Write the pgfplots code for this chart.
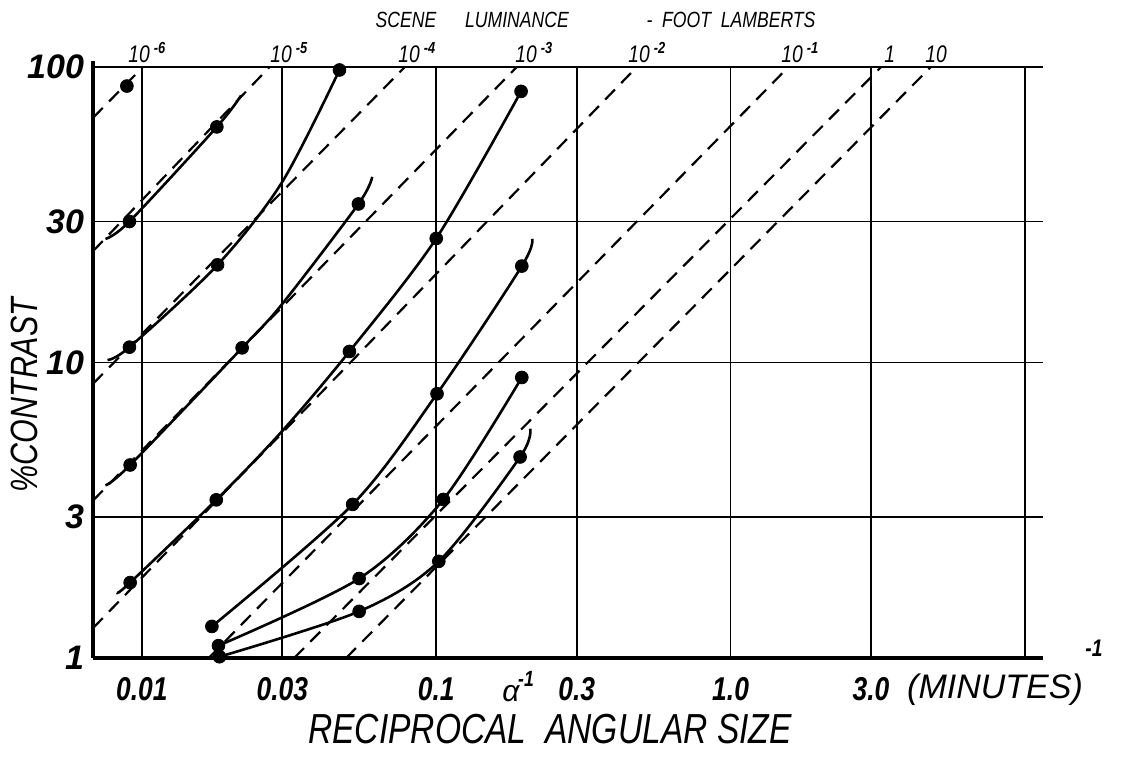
\documentclass[border=0pt]{standalone}
\usepackage{fontspec}
\setmainfont{Liberation Sans}
\newfontfamily\narrow[FakeStretch=0.8]{Liberation Sans}
\usepackage{pgfplots}
\pgfplotsset{compat=1.18}

% 1 px of the reference = 0.5pt; axis origin at reference pixel (93,658)
\tikzset{
  lum/.style={black, line width=1.1pt, dash pattern=on 7pt off 4.5pt},
  curve/.style={black, line width=1.3pt, smooth, tension=0.5},
  lumlab/.style={anchor=base west, inner sep=0pt, font=\narrow\itshape\fontsize{12}{12}\selectfont},
}

\begin{document}
\begin{tikzpicture}
\useasboundingbox (-46.5pt,-49.5pt) rectangle (526.5pt,329pt);
\begin{axis}[
  at={(0pt,0pt)}, anchor=south west,
  scale only axis, width=475pt, height=295.5pt,
  xmode=log, ymode=log,
  xmin=0.00682, xmax=11.52, ymin=1, ymax=100,
  axis x line=bottom, axis y line=left,
  axis line style={-, line width=1.6pt},
  y axis line style={shorten >=-3pt},
  xtick={0.01,0.03,0.1,0.3,1,3,10},
  xticklabels={0.01,0.03,0.1,0.3,1.0,3.0,},
  ytick={1,3,10,30,100},
  yticklabels={1,3,10,30,100},
  minor tick num=0, major tick length=0pt,
  grid=major, major grid style={black, line width=0.9pt},
  xticklabel style={font=\narrow\bfseries\itshape\fontsize{16.5}{16.5}\selectfont, yshift=-6pt},
  yticklabel style={font=\bfseries\itshape\fontsize{17}{17}\selectfont, xshift=-1pt},
  clip=false,
]
% luminance lines (dashed)
\addplot[lum] coordinates {(0.00682,67.3) (0.01008,100)};
\addplot[lum] coordinates {(0.00682,23.8) (0.02715,100)};
\addplot[lum] coordinates {(0.00682,8.47) (0.0782,100)};
\addplot[lum] coordinates {(0.00682,3.41) (0.1877,100)};
\addplot[lum] coordinates {(0.00682,1.262) (0.480,100)};
\addplot[lum] coordinates {(0.01686,1) (1.572,100)};
\addplot[lum] coordinates {(0.0329,1) (3.248,100)};
\addplot[lum] coordinates {(0.0494,1) (4.786,100)};

% measured curves
\addplot[curve] coordinates {(0.00752,26.2) (0.00907,30) (0.01797,62.7) (0.02173,80.1)};
\addplot[curve] coordinates {(0.00764,10.2) (0.00907,11.27) (0.01807,21.4) (0.03,40.9) (0.0469,97.7)};
\addplot[curve] coordinates {(0.00752,3.84) (0.00912,4.50) (0.0219,11.21) (0.03,15.8) (0.0544,34.4) (0.0606,42.5)};
\addplot[curve] coordinates {(0.00825,1.665) (0.00912,1.80) (0.01789,3.43) (0.03,5.87) (0.0507,10.9) (0.1,26.3) (0.1942,82.7)};
\addplot[curve] coordinates {(0.01729,1.279) (0.0520,3.31) (0.1006,7.84) (0.1953,21.2) (0.2118,26.2)};
\addplot[curve] coordinates {(0.0182,1.101) (0.0547,1.858) (0.1057,3.44) (0.1953,8.90)};
\addplot[curve] coordinates {(0.01835,1.01) (0.0547,1.438) (0.102,2.124) (0.1927,4.79) (0.2086,5.97)};

% data points
\addplot[only marks, mark=*, mark size=3.2pt, black] coordinates {
  (0.00889,86.2) (0.01797,62.7) (0.00907,30) (0.0469,97.7) (0.0544,34.4)
  (0.01807,21.4) (0.1,26.3) (0.00907,11.27) (0.0219,11.21) (0.0507,10.9)
  (0.1942,82.7) (0.1953,21.2) (0.00912,4.50) (0.01789,3.43) (0.00912,1.80)
  (0.0520,3.31) (0.1006,7.84) (0.01729,1.279) (0.0182,1.101) (0.01835,1.01)
  (0.0547,1.858) (0.0547,1.438) (0.1057,3.44) (0.102,2.124) (0.1953,8.90)
  (0.1927,4.79)};
\end{axis}

% titles and labels
\begin{scope}[every node/.style={inner sep=0pt, font=\narrow\itshape\fontsize{11}{11}\selectfont}]
\node at (156.5pt,319pt) {SCENE};
\node at (212pt,319pt) {LUMINANCE};
\node at (319pt,319pt) {-\ \ FOOT\ \ LAMBERTS};
\end{scope}
\node[lumlab] at (17.5pt,298pt) {10\,\textsuperscript{\bfseries -6}};
\node[lumlab] at (88.5pt,298pt) {10\,\textsuperscript{\bfseries -5}};
\node[lumlab] at (152.5pt,298pt) {10\,\textsuperscript{\bfseries -4}};
\node[lumlab] at (211pt,298pt) {10\,\textsuperscript{\bfseries -3}};
\node[lumlab] at (267.5pt,298pt) {10\,\textsuperscript{\bfseries -2}};
\node[lumlab] at (344pt,298pt) {10\,\textsuperscript{\bfseries -1}};
\node[lumlab] at (395.5pt,298pt) {1};
\node[lumlab] at (416pt,298pt) {10};

\node[rotate=90, inner sep=0pt, font=\narrow\itshape\fontsize{19}{19}\selectfont] at (-34.5pt,131.5pt) {\%CONTRAST};
\node[inner sep=0pt, font=\narrow\itshape\fontsize{21}{21}\selectfont] at (228.5pt,-35.5pt) {RECIPROCAL\ \ ANGULAR SIZE};
\node[inner sep=0pt, font=\itshape\fontsize{17}{17}\selectfont] at (451pt,-16pt) {(MINUTES)};
\node[inner sep=0pt, font=\narrow\bfseries\itshape\fontsize{12}{12}\selectfont] at (500.5pt,5pt) {-1};
\node[inner sep=0pt, font=\itshape\fontsize{15}{15}\selectfont] at (209pt,-18pt) {α};
\node[inner sep=0pt, font=\narrow\bfseries\itshape\fontsize{11}{11}\selectfont] at (216.5pt,-10.5pt) {-1};
\end{tikzpicture}
\end{document}
